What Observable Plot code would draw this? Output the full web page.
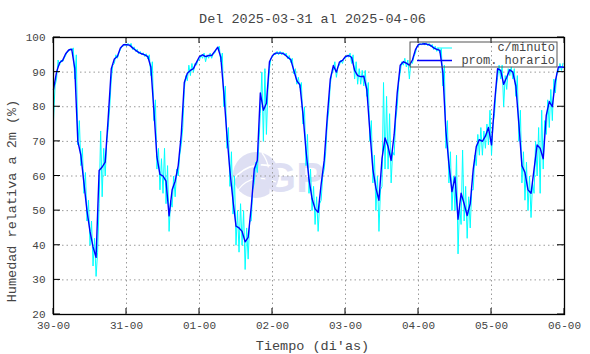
<!DOCTYPE html>
<html><head><meta charset="utf-8">
<script src="https://cdn.jsdelivr.net/npm/d3@7"></script>
<script src="https://cdn.jsdelivr.net/npm/@observablehq/plot@0.6"></script>
<style>html,body{margin:0;padding:0;background:#fff} svg{display:block}</style>
</head><body><div id="chart"></div>
<script>
const title = "Del 2025-03-31 al 2025-04-06";
const xLabel = "Tiempo (di'as)";
const yLabel = "Humedad relativa a 2m (%)";
const legendLabels = ["c/minuto", "prom. horario"];
const xTickHours = [0, 24, 48, 72, 96, 120, 144, 168];
const xTickLabels = ["30-00", "31-00", "01-00", "02-00", "03-00", "04-00", "05-00", "06-00"];
const yTicks = [20, 30, 40, 50, 60, 70, 80, 90, 100];

// hourly mean (prom. horario), hour 0 .. 168
const hourly = [
  85, 90, 92.7, 93.4, 95.3, 96.4, 96.6, 91, 70, 66, 58, 50, 44, 39.5, 36.5, 61.6, 62.6, 64, 77, 91, 93.8, 94.5, 97, 97.9,
  97.9, 97.8, 97, 96.3, 95.7, 95.3, 95, 94.5, 91.5, 79, 65.5, 60.5, 60, 58.5, 48.5, 56, 58.5, 63, 72, 87, 89.7, 90.5, 91, 92.8,
  94.5, 95, 94.5, 94.8, 94.8, 96, 97.2, 94.3, 84, 72, 61.5, 53, 45.5, 45, 44, 41, 42.3, 51, 62, 64.5, 84, 79, 81, 93,
  94.8, 95.5, 95.5, 95.5, 95.1, 94.3, 93.6, 90.5, 87.5, 86.3, 78, 67.5, 59, 53.5, 50.5, 49.5, 57.7, 64.5, 77, 88, 91.9, 90, 92.9, 93.4,
  94.5, 94.8, 94.3, 90.5, 89, 88.7, 88.8, 85, 73, 62, 56.5, 53, 65, 71, 68.5, 64.5, 72, 84, 92, 93, 92.6, 92, 93.5, 96.5,
  98, 98.1, 98.2, 98, 97.7, 97, 96.6, 96.3, 90, 73, 63.5, 55.5, 59.7, 47.5, 55, 52, 48.6, 52, 62, 68.5, 70.5, 70, 71.5, 74,
  69, 81, 91, 90.5, 86.5, 88.5, 90.7, 90, 86, 75, 63, 61, 56, 55, 62, 69, 68, 65, 77.5, 81.5, 80, 87.5, 91.5, 91.5, 91.4
];

// per-minute series (c/minuto): lowest and highest reading within each hour, hour 0 .. 167
const minuteLo = [
  76, 88, 92, 93, 94.8, 96, 96.2, 88, 69, 63, 55, 47, 40, 34, 31, 52, 54, 60, 74, 88, 92.5, 94, 96.5, 97.5,
  97.5, 97.5, 96.5, 96, 95.3, 95, 94.5, 93.8, 89, 76, 62, 56, 55, 52, 44, 51, 54, 60, 69, 85, 87.5, 89, 90, 92,
  93.5, 94, 93, 94, 94, 95.5, 96.8, 93, 80, 68, 57, 49, 40, 38, 40, 33, 36, 47, 58, 61, 78, 70, 72, 91,
  94.3, 95, 95, 95, 94.8, 93.8, 92.8, 89.5, 86.5, 85.5, 75, 63, 55, 50, 46, 44, 53, 62, 75, 86.5, 90.5, 88.5, 92, 92.5,
  94, 94.3, 92.5, 88, 86.5, 86.5, 86, 83, 70, 58, 50, 44, 57, 62, 62, 58, 66, 80, 90, 92, 91.5, 88, 92.5, 95.5,
  97.5, 97.8, 97.8, 97.6, 97.3, 96.5, 96, 95.5, 86, 68, 58, 50, 50, 37.5, 46, 47, 42, 45, 56, 63, 66, 66, 68, 69,
  66, 78, 88.5, 88, 80, 85, 89, 88, 83, 70, 58, 53, 50, 48, 55, 60, 55, 62, 72, 74, 76, 84, 90, 90.5
];
const minuteHi = [
  86, 93.5, 93.5, 94, 95.8, 96.8, 97, 95, 76, 68, 61, 53, 47, 42, 38, 73, 68, 70, 80, 92, 95, 95.5, 97.5, 98.2,
  98.3, 98.3, 97.3, 96.6, 96, 95.6, 95.3, 95, 93, 82, 68, 65, 68, 63, 53, 60, 62, 66, 74, 89, 92, 92.5, 92.5, 93.5,
  95, 95.5, 95, 95.5, 95.3, 96.5, 97.5, 95.5, 86, 74, 67, 60, 50, 52, 50, 45, 47, 56, 64, 69, 90, 91, 85, 94,
  95.5, 96, 96, 95.8, 95.5, 94.8, 94, 91, 88.5, 87, 80, 72, 62, 57, 54, 52, 60, 67, 79, 89.5, 93, 91.5, 93.5, 94,
  95, 95.5, 95, 93, 91, 90.5, 90.5, 87, 76, 66, 60, 56, 87, 83, 78, 67, 76, 87, 93, 94, 93.5, 93, 94.5, 97.5,
  98.3, 98.5, 98.5, 98.3, 98, 97.5, 97, 96.8, 92, 76, 67, 60, 66, 52, 67.5, 57, 54, 56, 66, 72, 74, 73, 75, 79,
  75, 85, 92, 92, 89, 91, 91.5, 91, 89, 79, 67, 64, 60, 58, 70, 74, 79, 76, 82, 85, 88, 90, 92.5, 92.5
];

const hourlyData = hourly.map((v, i) => ({t: i, v}));
const minuteData = [];
minuteLo.forEach((lo, i) => {
  minuteData.push({t: i, v: lo});
  minuteData.push({t: i + 0.5, v: minuteHi[i]});
});

const W = 590, H = 354;
const FONT = "'Liberation Mono', 'DejaVu Sans Mono', monospace";
const TXT = "#444";

const plot = Plot.plot({
  width: W, height: H,
  marginLeft: 53, marginRight: 26, marginTop: 37, marginBottom: 40,
  style: {fontFamily: FONT, background: "#fff", color: TXT, overflow: "visible"},
  x: {domain: [0, 168]},
  y: {domain: [20, 100]},
  marks: [
    Plot.gridX(xTickHours.slice(1, -1), {stroke: "#9a9a9a", strokeOpacity: 1, strokeWidth: 1, strokeDasharray: "1.5,3"}),
    Plot.gridY(yTicks.slice(1, -1), {stroke: "#9a9a9a", strokeOpacity: 1, strokeWidth: 1, strokeDasharray: "1.5,3"}),
    Plot.axisX(xTickHours, {tickSize: 0, tickPadding: 7, fontSize: 11, fill: TXT,
      tickFormat: d => xTickLabels[xTickHours.indexOf(d)], label: null}),
    Plot.axisY(yTicks, {tickSize: 0, tickPadding: 8, fontSize: 11, fill: TXT, label: null}),
    Plot.line(minuteData, {x: "t", y: "v", stroke: "#00ffff", strokeWidth: 1}),
    Plot.line(hourlyData, {x: "t", y: "v", stroke: "#0000ff", strokeWidth: 1.4}),
    Plot.frame({stroke: "#000", strokeWidth: 1.3})
  ]
});

document.getElementById("chart").appendChild(plot);
const svg = d3.select(plot);
const sx = plot.scale("x"), sy = plot.scale("y");
const x0 = sx.apply(0), x1 = sx.apply(168), y0 = sy.apply(20), y1 = sy.apply(100);

// watermark (logo) behind everything
const WM = "#dedff3";
const wm = svg.insert("g", "g").attr("aria-label", "watermark");
wm.append("circle").attr("cx", 256).attr("cy", 175).attr("r", 23).attr("fill", WM);
wm.append("path").attr("d", "M233,180 Q250,158 279,168").attr("fill", "none").attr("stroke", "#fff").attr("stroke-width", 1.5);
wm.append("path").attr("d", "M238,190 Q252,172 276,182").attr("fill", "none").attr("stroke", "#fff").attr("stroke-width", 1.2);
wm.append("path").attr("d", "M262,153 Q272,165 270,196").attr("fill", "none").attr("stroke", "#fff").attr("stroke-width", 1.2);
wm.append("text").attr("x", 288).attr("y", 192).attr("font-family", "'Liberation Sans', Arial, sans-serif")
  .attr("font-weight", "bold").attr("font-size", 42).attr("fill", WM).text("IGP");

// inward ticks on all four sides
const tk = svg.append("g").attr("stroke", "#000").attr("stroke-width", 1);
xTickHours.forEach(h => {
  const x = sx.apply(h);
  tk.append("line").attr("x1", x).attr("x2", x).attr("y1", y0).attr("y2", y0 - 6);
  tk.append("line").attr("x1", x).attr("x2", x).attr("y1", y1).attr("y2", y1 + 6);
});
yTicks.forEach(v => {
  const y = sy.apply(v);
  tk.append("line").attr("x1", x0).attr("x2", x0 + 7).attr("y1", y).attr("y2", y);
  tk.append("line").attr("x1", x1).attr("x2", x1 - 7).attr("y1", y).attr("y2", y);
});

// titles
svg.append("text").attr("x", (x0 + x1) / 2 + 4).attr("y", 19).attr("text-anchor", "middle")
  .attr("dominant-baseline", "central").attr("font-family", FONT).attr("font-size", 13.5).attr("fill", TXT).text(title);
svg.append("text").attr("x", (x0 + x1) / 2 + 4).attr("y", 346).attr("text-anchor", "middle")
  .attr("dominant-baseline", "central").attr("font-family", FONT).attr("font-size", 13.5).attr("fill", TXT).text(xLabel);
svg.append("text").attr("transform", "translate(12,201) rotate(-90)").attr("text-anchor", "middle")
  .attr("dominant-baseline", "central").attr("font-family", FONT).attr("font-size", 13.5).attr("fill", TXT).text(yLabel);

// legend
const lg = svg.append("g");
lg.append("rect").attr("x", 410).attr("y", 42).attr("width", 147).attr("height", 25)
  .attr("fill", "none").attr("stroke", "#555").attr("stroke-width", 1);
lg.append("line").attr("x1", 437).attr("x2", 452).attr("y1", 48).attr("y2", 48).attr("stroke", "#00ffff").attr("stroke-width", 1);
lg.append("line").attr("x1", 417).attr("x2", 452).attr("y1", 60.5).attr("y2", 60.5).attr("stroke", "#0000ff").attr("stroke-width", 1.4);
lg.append("text").attr("x", 555).attr("y", 48).attr("text-anchor", "end").attr("dominant-baseline", "central")
  .attr("font-family", FONT).attr("font-size", 12).attr("fill", TXT).text(legendLabels[0]);
lg.append("text").attr("x", 555).attr("y", 61).attr("text-anchor", "end").attr("dominant-baseline", "central")
  .attr("font-family", FONT).attr("font-size", 12).attr("fill", TXT).text(legendLabels[1]);
</script>
</body></html>
